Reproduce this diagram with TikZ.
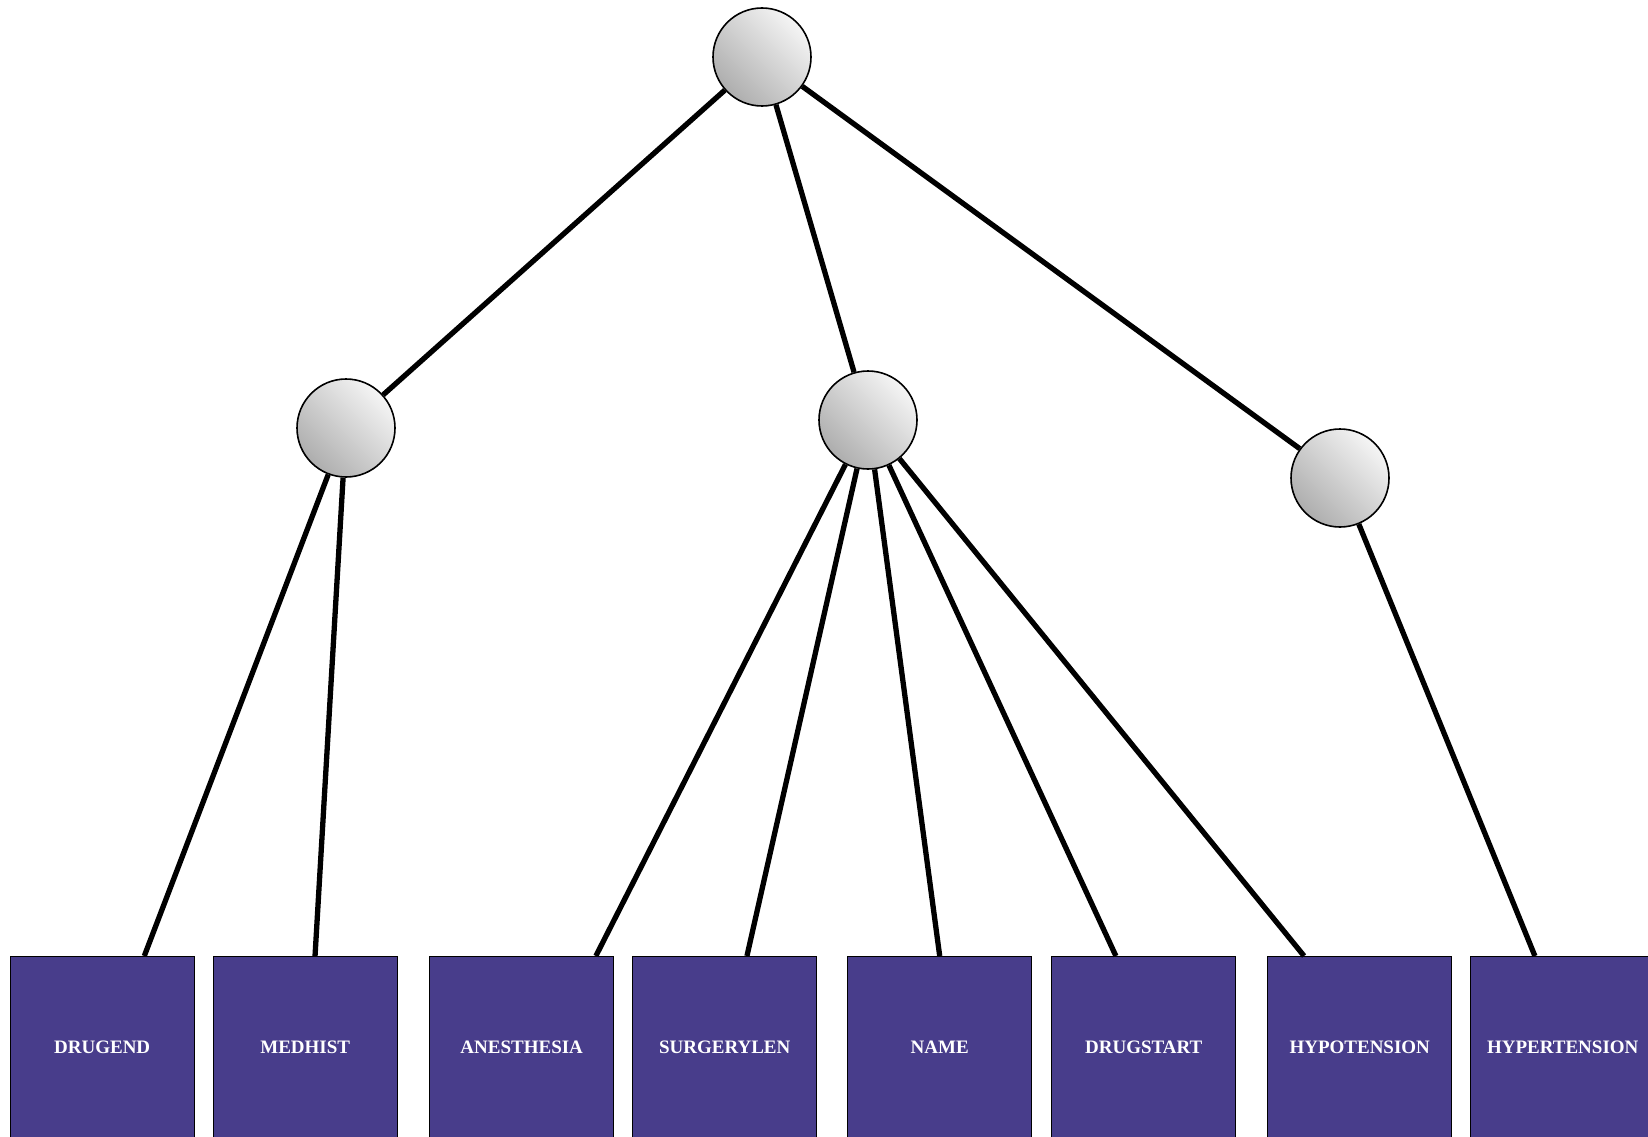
\documentclass[tikz,border=0pt]{standalone}
\usepackage{fontspec}
\setmainfont{Liberation Serif}
\usetikzlibrary{calc}
\definecolor{boxblue}{RGB}{72,61,139}
\begin{document}
\begin{tikzpicture}[x=1pt,y=-1pt,
  hub/.style={circle,draw=black,line width=1.6pt,minimum size=98pt,inner sep=0pt,
    shading=axis,left color=black!32,right color=black!4,shading angle=135},
  leaf/.style={rectangle,draw=black,line width=1.4pt,fill=boxblue,minimum width=184pt,
    minimum height=182pt,inner sep=0pt,anchor=north west,text=white,
    font=\bfseries\fontsize{19}{23}\selectfont},
  link/.style={line width=5.3pt,black}]
\useasboundingbox (0,0) rectangle (1648,1137);

% internal nodes
\node[hub] (root) at (762,57) {};
\node[hub] (h1) at (346,428) {};
\node[hub] (h2) at (868,420) {};
\node[hub] (h3) at (1340,478) {};

% leaf boxes
\node[leaf] (b1) at (9.5,956) {DRUGEND};
\node[leaf] (b2) at (212.5,956) {MEDHIST};
\node[leaf] (b3) at (429,956) {ANESTHESIA};
\node[leaf] (b4) at (632,956) {SURGERYLEN};
\node[leaf] (b5) at (847,956) {NAME};
\node[leaf] (b6) at (1051,956) {DRUGSTART};
\node[leaf] (b7) at (1267,956) {HYPOTENSION};
\node[leaf] (b8) at (1470,956) {HYPERTENSION};

% attachment points on the box tops
\coordinate (k1) at ($(b1.north west)!0.727!(b1.north east)$);
\coordinate (k2) at ($(b2.north west)!0.553!(b2.north east)$);
\coordinate (k3) at ($(b3.north west)!0.900!(b3.north east)$);
\coordinate (k4) at ($(b4.north west)!0.620!(b4.north east)$);
\coordinate (k5) at ($(b5.north west)!0.500!(b5.north east)$);
\coordinate (k6) at ($(b6.north west)!0.350!(b6.north east)$);
\coordinate (k7) at ($(b7.north west)!0.200!(b7.north east)$);
\coordinate (k8) at ($(b8.north west)!0.350!(b8.north east)$);

% connectors
\draw[link] (root) -- (h1);
\draw[link] (root) -- (h2);
\draw[link] (root) -- (h3);
\draw[link] (h1) -- (k1);
\draw[link] (h1) -- (k2);
\draw[link] (h2) -- (k3);
\draw[link] (h2) -- (k4);
\draw[link] (h2) -- (k5);
\draw[link] (h2) -- (k6);
\draw[link] (h2) -- (k7);
\draw[link] (h3) -- (k8);
\end{tikzpicture}
\end{document}
